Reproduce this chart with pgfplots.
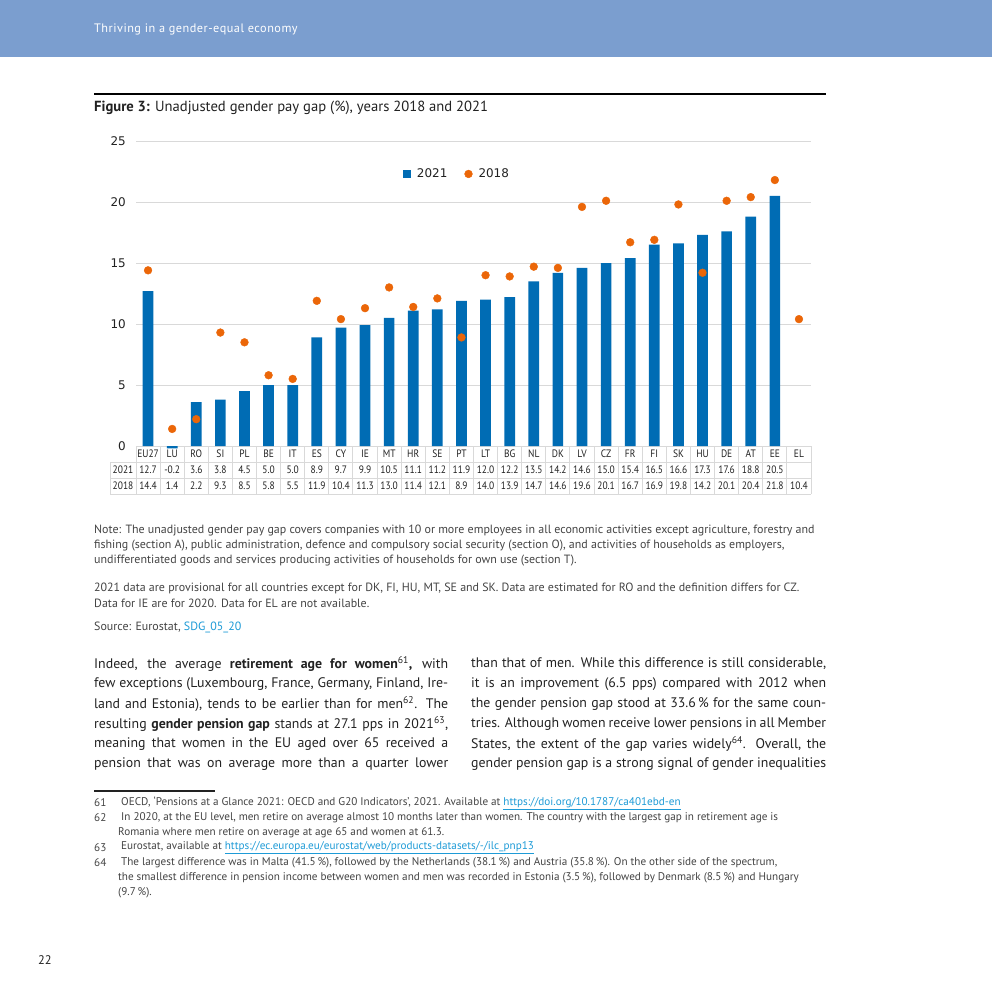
\documentclass[border=0pt]{standalone}
\usepackage{pgfplots}
\pgfplotsset{compat=1.18}
\usepackage{pgfplotstable}
\usepackage{fontspec}
\setmainfont{PT Sans}
\newfontfamily\dvs{DejaVu Sans}
\newfontfamily\cond{PT Sans}[FakeStretch=0.88]

\definecolor{head}{HTML}{7B9ECF}
\definecolor{barblue}{HTML}{006CB4}
\definecolor{dotorange}{HTML}{EB6608}
\definecolor{gridgray}{HTML}{D9D9D9}
\definecolor{txt}{HTML}{222222}
\definecolor{notegray}{HTML}{444444}
\definecolor{link}{HTML}{1E9BD7}

% gender pay gap, 2021 and 2018
\pgfplotstableread{
x   c     v21   v18
0   EU27  12.7  14.4
1   LU    -0.2  1.4
2   RO    3.6   2.2
3   SI    3.8   9.3
4   PL    4.5   8.5
5   BE    5.0   5.8
6   IT    5.0   5.5
7   ES    8.9   11.9
8   CY    9.7   10.4
9   IE    9.9   11.3
10  MT    10.5  13.0
11  HR    11.1  11.4
12  SE    11.2  12.1
13  PT    11.9  8.9
14  LT    12.0  14.0
15  BG    12.2  13.9
16  NL    13.5  14.7
17  DK    14.2  14.6
18  LV    14.6  19.6
19  CZ    15.0  20.1
20  FR    15.4  16.7
21  FI    16.5  16.9
22  SK    16.6  19.8
23  HU    17.3  14.2
24  DE    17.6  20.1
25  AT    18.8  20.4
26  EE    20.5  21.8
27  EL    nan   10.4
}\gapdata

\newcommand\notefont{\normalfont\fontsize{12}{15}\selectfont\color{notegray}}
\newcommand\bodyfont{\normalfont\fontsize{13.9}{20}\selectfont\color{txt}}
\newcommand\fnfont{\normalfont\fontsize{11.2}{15}\selectfont\color{notegray}}
\newcommand\lnk[1]{\textcolor{link}{\underline{#1}}}
% one column of the data table: three rows of 16bp
\newcommand\tc[3]{\vbox{\offinterlineskip
  \hbox to 24bp{\hss\vrule height 11.5bp depth 4.5bp width 0pt #1\hss}%
  \hbox to 24bp{\hss\vrule height 11.5bp depth 4.5bp width 0pt #2\hss}%
  \hbox to 24bp{\hss\vrule height 11.5bp depth 4.5bp width 0pt #3\hss}}}

\begin{document}
\begin{tikzpicture}
\begin{scope}[x=1bp,y=-1bp]
  \useasboundingbox (0,0) rectangle (992,992);
  \fill[white] (0,0) rectangle (992,992);
  \fill[head] (0,0) rectangle (992,57);
  \node[anchor=west,inner sep=0,text=white,font=\normalfont\fontsize{12.3}{13}\selectfont\addfontfeatures{LetterSpace=4}] at (94,29) {Thriving in a gender-equal economy};
  \draw[line width=2bp] (94,94) -- (826,94);
  \node[anchor=west,inner sep=0,font=\normalfont\fontsize{14.7}{16}\selectfont,text=txt] at (94,108) {\textbf{Figure 3:} Unadjusted gender pay gap (\%), years 2018 and 2021};
\end{scope}

\begin{axis}[
    at={(136bp,-446bp)}, anchor=south west,
    width=675bp, height=305bp, scale only axis,
    xmin=-0.5, xmax=27.5, ymin=0, ymax=25,
    clip=false,
    axis line style={draw=none},
    tick style={draw=none},
    ytick={0,5,...,25},
    ymajorgrids=true,
    grid style={gridgray, line width=1bp},
    yticklabel style={font=\dvs\fontsize{12}{12}\selectfont, text=txt, inner sep=0pt, xshift=-10bp,
        /pgf/number format/assume math mode=true},
    xtick={0,...,27},
    xticklabels={\tc{EU27}{12.7}{14.4},\tc{LU}{-0.2}{1.4},\tc{RO}{3.6}{2.2},\tc{SI}{3.8}{9.3},
        \tc{PL}{4.5}{8.5},\tc{BE}{5.0}{5.8},\tc{IT}{5.0}{5.5},\tc{ES}{8.9}{11.9},
        \tc{CY}{9.7}{10.4},\tc{IE}{9.9}{11.3},\tc{MT}{10.5}{13.0},\tc{HR}{11.1}{11.4},
        \tc{SE}{11.2}{12.1},\tc{PT}{11.9}{8.9},\tc{LT}{12.0}{14.0},\tc{BG}{12.2}{13.9},
        \tc{NL}{13.5}{14.7},\tc{DK}{14.2}{14.6},\tc{LV}{14.6}{19.6},\tc{CZ}{15.0}{20.1},
        \tc{FR}{15.4}{16.7},\tc{FI}{16.5}{16.9},\tc{SK}{16.6}{19.8},\tc{HU}{17.3}{14.2},
        \tc{DE}{17.6}{20.1},\tc{AT}{18.8}{20.4},\tc{EE}{20.5}{21.8},\tc{EL}{}{10.4}},
    xticklabel style={anchor=north, inner sep=0pt, yshift=0pt,
        font=\cond\fontsize{10.8}{16}\selectfont, text=txt},
    legend style={at={(0.474,0.892)}, anchor=center, draw=none, fill=none,
        legend columns=2, font=\dvs\fontsize{12}{12}\selectfont, text=txt,
        nodes={inner sep=0pt},
        /tikz/every even column/.append style={column sep=17bp}},
    legend cell align=left,
]
\addplot[ybar, bar width=10.7bp, fill=barblue, draw=none,
    legend image code/.code={\fill[barblue] (0bp,-4bp) rectangle (8bp,4bp);
        \path[draw=none,fill=none] (0bp,0bp) -- (14bp,0bp);}]
    table[x=x, y=v21] {\gapdata};
\addplot[only marks, mark=*, mark size=3.9bp, color=dotorange,
    legend image code/.code={\fill[dotorange] (4bp,0bp) circle (3.9bp);
        \path[draw=none,fill=none] (0bp,0bp) -- (14bp,0bp);}]
    table[x=x, y=v18] {\gapdata};
\legend{2021, 2018}
\end{axis}

\begin{scope}[x=1bp,y=-1bp]
  % data table grid
  \foreach \y in {462,478,494} \draw[gridgray, line width=1bp] (110,\y) -- (811,\y);
  \draw[gridgray, line width=1bp] (110,462) -- (110,494);
  \foreach \k in {0,...,28} \draw[gridgray, line width=1bp] ({136+\k*24.1071},446) -- ({136+\k*24.1071},494);
  \node[anchor=base,inner sep=0,font=\cond\fontsize{10.8}{12}\selectfont,text=txt] at (123,473.5) {2021};
  \node[anchor=base,inner sep=0,font=\cond\fontsize{10.8}{12}\selectfont,text=txt] at (123,489.5) {2018};

  % notes
  \begin{scope}[every node/.style={anchor=west,inner sep=0,font=\notefont}]
  \node at (94,531) {Note: The unadjusted gender pay gap covers companies with 10 or more employees in all economic activities except agriculture, forestry and};
  \node at (94,546) {fishing (section A), public administration, defence and compulsory social security (section O), and activities of households as employers,};
  \node at (94,561) {undifferentiated goods and services producing activities of households for own use (section T).};
  \node at (94,588) {2021 data are provisional for all countries except for DK, FI, HU, MT, SE and SK. Data are estimated for RO and the definition differs for CZ.};
  \node at (94,603) {Data for IE are for 2020. Data for EL are not available.};
  \node at (94,627) {Source: Eurostat, \textcolor{link}{SDG\_05\_20}};
  \end{scope}

  % body text, two columns
  \begin{scope}[every node/.style={anchor=west,inner sep=0,font=\bodyfont}]
  \node at (94,664) {\makebox[354bp][s]{Indeed, the average \textbf{retirement age for women}\textsuperscript{61}\textbf{,} with}};
  \node at (94,684) {\makebox[354bp][s]{few exceptions (Luxembourg, France, Germany, Finland, Ire-}};
  \node at (94,704) {\makebox[354bp][s]{land and Estonia), tends to be earlier than for men\textsuperscript{62}. The}};
  \node at (94,724) {\makebox[354bp][s]{resulting \textbf{gender pension gap} stands at 27.1 pps in 2021\textsuperscript{63},}};
  \node at (94,744) {\makebox[354bp][s]{meaning that women in the EU aged over 65 received a}};
  \node at (94,764) {\makebox[354bp][s]{pension that was on average more than a quarter lower}};
  \node at (471,664) {\makebox[355bp][s]{than that of men. While this difference is still considerable,}};
  \node at (471,684) {\makebox[355bp][s]{it is an improvement (6.5 pps) compared with 2012 when}};
  \node at (471,704) {\makebox[355bp][s]{the gender pension gap stood at 33.6\,\% for the same coun-}};
  \node at (471,724) {\makebox[355bp][s]{tries. Although women receive lower pensions in all Member}};
  \node at (471,744) {\makebox[355bp][s]{States, the extent of the gap varies widely\textsuperscript{64}. Overall, the}};
  \node at (471,764) {\makebox[355bp][s]{gender pension gap is a strong signal of gender inequalities}};
  \end{scope}

  % footnotes
  \draw[line width=1.5bp, txt] (94,791) -- (215,791);
  \begin{scope}[every node/.style={anchor=west,inner sep=0,font=\fnfont}]
  \node at (94,803) {61};
  \node at (121,803) {OECD, ‘Pensions at a Glance 2021: OECD and G20 Indicators’, 2021. Available at \lnk{https://doi.org/10.1787/ca401ebd-en}};
  \node at (94,818) {62};
  \node at (121,818) {In 2020, at the EU level, men retire on average almost 10 months later than women. The country with the largest gap in retirement age is};
  \node at (118,833) {Romania where men retire on average at age 65 and women at 61.3.};
  \node at (94,848) {63};
  \node at (121,848) {Eurostat, available at \lnk{https://ec.europa.eu/eurostat/web/products-datasets/-/ilc\_pnp13}};
  \node at (94,863) {64};
  \node at (121,863) {The largest difference was in Malta (41.5\,\%), followed by the Netherlands (38.1\,\%) and Austria (35.8\,\%). On the other side of the spectrum,};
  \node at (118,878) {the smallest difference in pension income between women and men was recorded in Estonia (3.5\,\%), followed by Denmark (8.5\,\%) and Hungary};
  \node at (118,893) {(9.7\,\%).};
  \end{scope}

  \node[anchor=west,inner sep=0,font=\normalfont\fontsize{12.5}{13}\selectfont,text=txt] at (38,960) {22};
\end{scope}
\end{tikzpicture}
\end{document}
